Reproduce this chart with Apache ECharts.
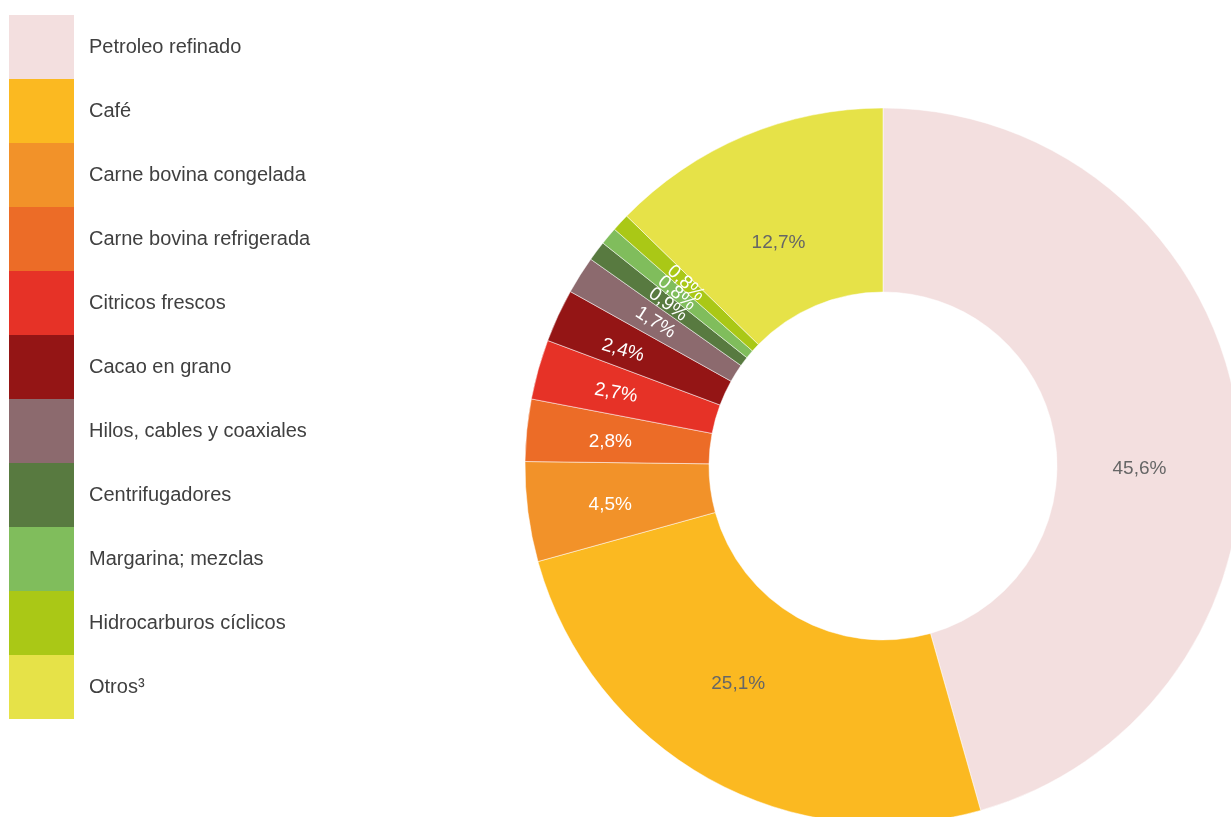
<!DOCTYPE html>
<html>
<head>
<meta charset="utf-8">
<script src="https://cdn.jsdelivr.net/npm/echarts@6/dist/echarts.min.js"></script>
<style>
  html, body { margin: 0; padding: 0; background: #fff; }
  #chart { width: 1231px; height: 817px; }
</style>
</head>
<body>
<div id="chart"></div>
<script>
const categories = [
  'Petroleo refinado', 'Café', 'Carne bovina congelada', 'Carne bovina refrigerada',
  'Citricos frescos', 'Cacao en grano', 'Hilos, cables y coaxiales', 'Centrifugadores',
  'Margarina; mezclas', 'Hidrocarburos cíclicos', 'Otros³'
];
const shares = [45.6, 25.1, 4.5, 2.8, 2.7, 2.4, 1.7, 0.9, 0.8, 0.8, 12.7];
const colors = [
  '#f3dfdf', '#fbb921', '#f29229', '#ec6c27', '#e63227', '#941515',
  '#8c6a6e', '#587a40', '#80bd5c', '#aac816', '#e6e248'
];

// label styling per slice (grey on the light slices, white elsewhere)
const darkLabel = ['Petroleo refinado', 'Café', 'Otros³'];
const labelRotate = {
  'Citricos frescos': -10,
  'Cacao en grano': -16,
  'Hilos, cables y coaxiales': 'radial',
  'Centrifugadores': 'radial',
  'Margarina; mezclas': 'radial',
  'Hidrocarburos cíclicos': 'radial'
};
// small nudges so the labels sit where the original put them
const labelNudge = {
  'Petroleo refinado': [-10, 40],
  'Café': [-13, -17],
  'Carne bovina congelada': [-6, 4],
  'Carne bovina refrigerada': [-5, 3],
  'Citricos frescos': [-8, 1],
  'Cacao en grano': [-16, 2],
  'Otros³': [0, 25]
};

const chart = echarts.init(document.getElementById('chart'));

const data = categories.map(function (name, i) {
  return {
    name: name,
    value: shares[i],
    itemStyle: { color: colors[i] },
    label: {
      color: darkLabel.indexOf(name) >= 0 ? '#666' : '#fff',
      rotate: labelRotate[name] || 0,
      offset: labelNudge[name] || [0, 0]
    }
  };
});

const option = {
  animation: false,
  legend: {
    orient: 'vertical',
    left: 9,
    top: 15,
    padding: 0,
    itemWidth: 65,
    itemHeight: 64,
    itemGap: 0,
    icon: 'rect',
    selectedMode: false,
    itemStyle: { borderWidth: 0 },
    data: categories,
    textStyle: {
      fontFamily: 'Liberation Sans, Arial, sans-serif',
      fontSize: 20,
      color: '#404040',
      padding: [0, 0, 0, 10]
    }
  },
  series: [{
    type: 'pie',
    center: [883, 466],
    radius: [174, 358],
    startAngle: 90,
    clockwise: true,
    avoidLabelOverlap: false,
    labelLayout: { hideOverlap: false },
    itemStyle: { borderColor: '#fff', borderWidth: 0.5 },
    label: {
      show: true,
      position: 'inside',
      fontFamily: 'Liberation Sans, Arial, sans-serif',
      fontSize: 19,
      formatter: function (p) {
        return p.value.toFixed(1).replace('.', ',') + '%';
      }
    },
    labelLine: { show: false },
    emphasis: { disabled: true },
    data: data
  }]
};

chart.setOption(option);
</script>
</body>
</html>
